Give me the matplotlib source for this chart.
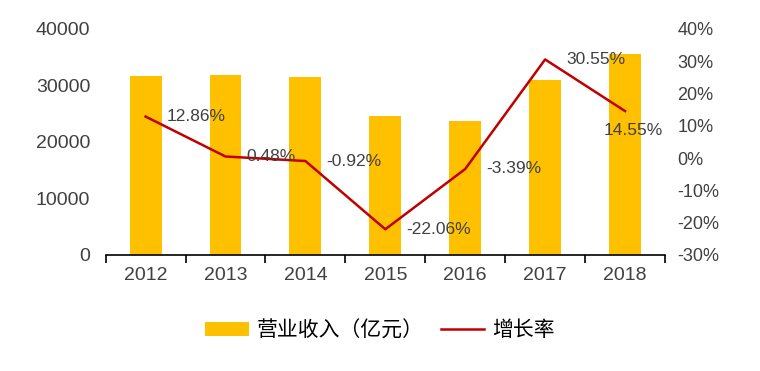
import matplotlib.pyplot as plt
from matplotlib.ticker import FuncFormatter

years = ["2012", "2013", "2014", "2015", "2016", "2017", "2018"]
revenue = [31700, 31850, 31500, 24500, 23750, 30950, 35550]
growth = [12.86, 0.48, -0.92, -22.06, -3.39, 30.55, 14.55]

bar_color = "#FFC000"
line_color = "#C00000"
text_color = "#404040"

plt.rcParams["font.family"] = ["Liberation Sans", "Noto Sans CJK SC", "DejaVu Sans"]

fig = plt.figure(figsize=(7.6, 3.71), dpi=100)
ax = fig.add_axes([0.139, 0.313, 0.736, 0.609])
x = list(range(len(years)))

bars = ax.bar(x, revenue, width=0.4, color=bar_color, label="营业收入（亿元）", zorder=1)
ax.set_xlim(-0.5, len(years) - 0.5)
ax.set_ylim(0, 40000)
ax.set_yticks(range(0, 40001, 10000))
ax.set_xticks(x)
ax.set_xticklabels(years)

ax2 = ax.twinx()
line, = ax2.plot(x, growth, color=line_color, linewidth=1.8, label="增长率", zorder=3)
ax2.set_ylim(-30, 40)
ax2.set_yticks(range(-30, 41, 10))
ax2.yaxis.set_major_formatter(FuncFormatter(lambda v, p: f"{v:.0f}%"))

# data labels beside the points
for i, g in enumerate(growth):
    if i == len(growth) - 1:
        ax2.annotate(f"{g:.2f}%", (i, g), xytext=(6, -14), textcoords="offset points",
                     ha="center", va="center", fontsize=12.5, color=text_color)
    else:
        ax2.annotate(f"{g:.2f}%", (i, g), xytext=(15, 0), textcoords="offset points",
                     ha="left", va="center", fontsize=12.5, color=text_color)

for a in (ax, ax2):
    for s in ("top", "left", "right"):
        a.spines[s].set_visible(False)
ax.tick_params(axis="y", length=0, labelsize=14, labelcolor=text_color, pad=11)
ax2.tick_params(axis="y", length=0, labelsize=13, labelcolor=text_color, pad=9)
ax2.spines["bottom"].set_visible(False)
ax.spines["bottom"].set_color("black")
ax.spines["bottom"].set_linewidth(1.2)

# ticks between categories on the x axis
ax.set_xticks([i - 0.5 for i in range(len(years) + 1)], minor=True)
ax.tick_params(axis="x", which="major", length=0, labelsize=14, labelcolor=text_color, pad=9)
ax.tick_params(axis="x", which="minor", length=6, width=1.2, color="black")

fig.legend([bars, line], ["营业收入（亿元）", "增长率"], loc="center",
           bbox_to_anchor=(0.5, 0.11), ncol=2, frameon=False,
           handlelength=2.1, handleheight=0.63, handletextpad=0.4, columnspacing=0.8,
           prop={"family": ["Noto Sans CJK SC"], "size": 15})

fig.savefig("out.png", dpi=100)
